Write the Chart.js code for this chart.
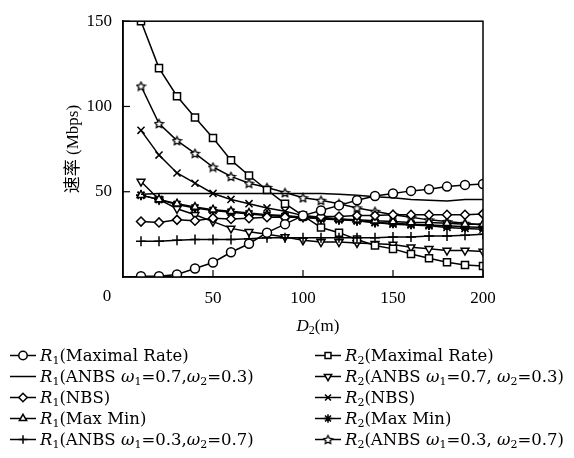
<!DOCTYPE html>
<html><head><meta charset="utf-8">
<script src="https://cdn.jsdelivr.net/npm/chart.js@4.4.1/dist/chart.umd.min.js"></script>
<style>
html,body{margin:0;padding:0;background:#fff;}
#wrap{position:relative;width:574px;height:458px;overflow:hidden;}
#c{position:absolute;left:0;top:0;}
#legend{position:absolute;left:0;top:0;width:574px;height:458px;font-family:'DejaVu Serif','Liberation Serif',serif;font-size:16.5px;color:#000;pointer-events:none;}
.item{position:absolute;height:21px;line-height:21px;white-space:nowrap;}
.item canvas{position:absolute;left:0;top:3px;}
.item span{position:absolute;top:0;}
sub{font-size:11px;vertical-align:-3px;line-height:0;}
</style></head>
<body><div id="wrap"><canvas id="c" width="574" height="340"></canvas><div id="legend"></div></div>
<script>
// ---- data ----
const xValues = [10,20,30,40,50,60,70,80,90,100,110,120,130,140,150,160,170,180,190,200];
const r1MaxRate   = [0.5,0.5,1.5,5,8.5,14.5,19.5,26,31,36,39,42,45,47.5,49,50.5,51.5,53,54,54.5];
const r1Anbs73    = [48.5,49,49,49,49,49,49,49,49,49,49,48.5,48,47,46.5,45.5,45,44.5,45.5,45.5];
const r1Nbs       = [32.5,32,33.5,33,34.5,34,34.5,35,35,35,35.5,35.5,36,36,36.5,36.5,36.5,36.5,36.5,37];
const r1MaxMin    = [48,45.5,43,41,39.5,38.5,37.5,36.5,36,35,34.5,34,33.5,33,32.5,32,32,31.5,31,31];
const r1Anbs37    = [21,21,21.5,22,22,22,22.5,23,23,23,23,23,23,23,23.5,23.5,24,24,24.5,25];
const r2MaxRate   = [150,122.5,106,93.5,81.5,68.5,59.5,51,43,36,29,26,22,18.5,16.5,13.5,11,8.7,7,6.5];
const r2Anbs73    = [56,45.5,40,36.5,32.5,28.5,26.5,25,23.5,21.5,20.5,20.5,20,19.5,19,17.5,16.5,15.5,15.5,15];
const r2Nbs       = [86,71.5,61,55,49,45.5,43,40.5,38.5,36,35,34,33,32,31,30.5,30,29,28.5,28];
const r2MaxMin    = [48,45.5,42.5,40.5,39,38,37,36,35.5,35,34,33.5,33,32,31.5,31,30.5,30,29.5,29];
const r2Anbs37    = [112,90,80,72.5,64.5,59,55,52.5,49.5,46.5,45,43,40.5,38.5,36.5,35,33.5,32.5,31.5,30.5];
const xTicks = [0,50,100,150,200];
const yTicks = [0,50,100,150];
const seriesLabels = [
  'R₁(Maximal Rate)','R₁(ANBS ω₁=0.7,ω₂=0.3)','R₁(NBS)','R₁(Max Min)','R₁(ANBS ω₁=0.3,ω₂=0.7)',
  'R₂(Maximal Rate)','R₂(ANBS ω₁=0.7, ω₂=0.3)','R₂(NBS)','R₂(Max Min)','R₂(ANBS ω₁=0.3, ω₂=0.7)'
];
const xTitle = 'D₂(m)';
const yTitle = '速率 (Mbps)';

// custom pentagram marker
function makeStar(size){
  const c=document.createElement('canvas'); c.width=size; c.height=size;
  const g=c.getContext('2d'); const cx=size/2, cy=size/2+0.5, R=size/2-1, r=R*0.5;
  g.beginPath();
  for(let i=0;i<10;i++){const a=-Math.PI/2+i*Math.PI/5; const rr=i%2?r:R; g.lineTo(cx+rr*Math.cos(a),cy+rr*Math.sin(a));}
  g.closePath(); g.fillStyle='#fff'; g.fill(); g.lineWidth=1.3; g.strokeStyle='#000'; g.stroke();
  return c;
}
const starImg = makeStar(11);

const seriesData = [r1MaxRate,r1Anbs73,r1Nbs,r1MaxMin,r1Anbs37,r2MaxRate,r2Anbs73,r2Nbs,r2MaxMin,r2Anbs37];
const styles = [
  {s:'circle',r:4.5},{s:false,r:0},{s:'rectRot',r:4.5},{s:'triangle',r:4.5},{s:'cross',r:5},
  {s:'rect',r:5},{s:'triangle',r:4.5,rot:180},{s:'crossRot',r:5},{s:'star',r:5},{s:starImg,r:5.5}
];
const datasets = seriesData.map((arr,i)=>({
  label: seriesLabels[i],
  data: xValues.map((x,j)=>({x:x,y:arr[j]})),
  borderColor:'#000', backgroundColor:'#fff', borderWidth:1.5,
  pointStyle: styles[i].s, pointRadius: styles[i].r, pointRotation: styles[i].rot||0,
  pointBorderColor:'#000', pointBackgroundColor:'#fff', pointBorderWidth: i===8?2:1.5,
  fill:false, tension:0
}));

const serif = "'Liberation Serif','DejaVu Serif',serif";
const framePlugin = {
  id:'frame',
  afterDraw(chart){
    const {ctx, chartArea:a, scales:{x,y}} = chart;
    ctx.save();
    ctx.strokeStyle='#000'; ctx.lineWidth=1.5;
    ctx.strokeRect(a.left, a.top, a.right-a.left, a.bottom-a.top);
    ctx.lineWidth=1.2;
    yTicks.forEach(v=>{ if(v===0) return; const p=y.getPixelForValue(v); ctx.beginPath(); ctx.moveTo(a.left,p); ctx.lineTo(a.left+7,p); ctx.stroke(); });
    xTicks.forEach(v=>{ if(v===0) return; const p=x.getPixelForValue(v); ctx.beginPath(); ctx.moveTo(p,a.bottom); ctx.lineTo(p,a.bottom-7); ctx.stroke(); });
    // "0" label
    ctx.fillStyle='#000'; ctx.font='17px '+serif; ctx.textAlign='center'; ctx.textBaseline='middle';
    ctx.fillText('0', a.left-16, 297);
    // x title with italic D and subscript
    const m = xTitle.match(/^(.)(.)(.*)$/);
    const sub = {'₁':'1','₂':'2'}[m[2]]||m[2];
    ctx.textBaseline='alphabetic'; ctx.textAlign='left';
    ctx.font='italic 17px '+serif; const w1=ctx.measureText(m[1]).width;
    ctx.font='12px '+serif; const w2=ctx.measureText(sub).width;
    ctx.font='17px '+serif; const w3=ctx.measureText(m[3]).width;
    let sx = 318-(w1+w2+w3)/2, by=331;
    ctx.font='italic 17px '+serif; ctx.fillText(m[1],sx,by); sx+=w1;
    ctx.font='12px '+serif; ctx.fillText(sub,sx,by+3); sx+=w2;
    ctx.font='17px '+serif; ctx.fillText(m[3],sx,by);
    ctx.restore();
  }
};

new Chart(document.getElementById('c'), {
  type:'line',
  data:{datasets},
  plugins:[framePlugin],
  options:{
    responsive:false, animation:false,
    layout:{padding:{left:0,right:91,top:15,bottom:0}},
    plugins:{legend:{display:false},tooltip:{enabled:false}},
    scales:{
      x:{type:'linear',min:0,max:200,
        afterFit(s){s.height=63;},
        afterBuildTicks(s){s.ticks=xTicks.map(v=>({value:v}));},
        grid:{display:false,drawTicks:false},
        border:{display:true,color:'#000',width:1.5},
        ticks:{padding:11,color:'#000',font:{family:serif,size:17},callback:v=>v===0?'':String(v)}},
      y:{type:'linear',min:0,max:150,
        afterFit(s){s.width=123;},
        afterBuildTicks(s){s.ticks=yTicks.map(v=>({value:v}));},
        grid:{display:false,drawTicks:false},
        border:{display:true,color:'#000',width:1.5},
        title:{display:true,text:yTitle,color:'#000',font:{family:"'Liberation Serif','Noto Sans CJK SC',serif",size:17},padding:{top:63,bottom:0}},
        ticks:{padding:11,color:'#000',font:{family:serif,size:17},callback:v=>v===0?'':String(v)}}
    }
  }
});

// HTML legend (two columns)
function toHtml(t){
  return t.replace(/R([₁₂])/g,(m,d)=>'<i>R</i><sub>'+(d==='₁'?1:2)+'</sub>')
          .replace(/ω([₁₂])/g,(m,d)=>'<i>ω</i><sub>'+(d==='₁'?1:2)+'</sub>');
}
const leg=document.getElementById('legend');
const rowY=[355,376,397,418,439];
seriesLabels.forEach((lab,i)=>{
  const col=i<5?0:1, row=i%5;
  const d=document.createElement('div'); d.className='item';
  d.style.left=(col?314:9)+'px'; d.style.top=(rowY[row]-10.5)+'px';
  const cv=document.createElement('canvas'); cv.width=28; cv.height=15;
  const g=cv.getContext('2d');
  g.strokeStyle='#000'; g.lineWidth=1.5; g.beginPath(); g.moveTo(1,7.5); g.lineTo(27,7.5); g.stroke();
  const st=styles[i];
  if(st.s){
    g.fillStyle='#fff'; g.strokeStyle='#000'; g.lineWidth=1.5;
    try{ Chart.helpers.drawPoint(g,{pointStyle:st.s,radius:Math.min(st.r,4.2),rotation:st.rot||0,borderWidth:1.5},14,7.5);}catch(e){}
  }
  d.appendChild(cv);
  const sp=document.createElement('span'); sp.style.left='31px'; sp.innerHTML=toHtml(lab);
  d.appendChild(sp); leg.appendChild(d);
});
</script>
</body></html>
